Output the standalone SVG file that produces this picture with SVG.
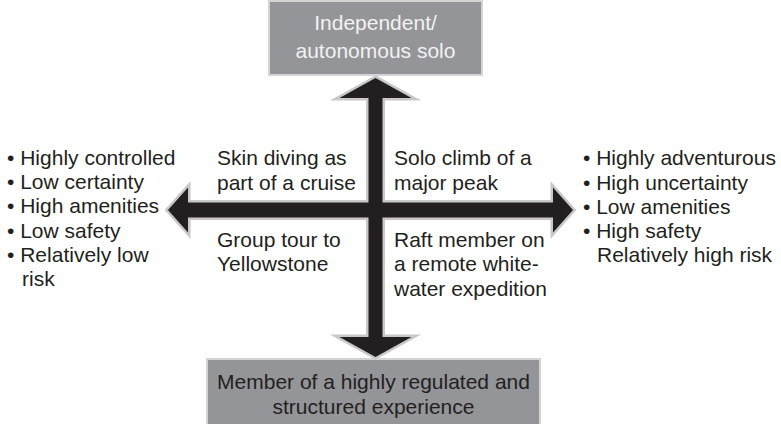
<svg xmlns="http://www.w3.org/2000/svg" xmlns:xlink="http://www.w3.org/1999/xlink" width="781" height="424" viewBox="0 0 781 424">
<style>
text { font-family: "Liberation Sans", Arial, sans-serif; font-size: 21px; fill: #231f20; }
.box { fill: #939598; stroke: #d4d4d4; stroke-width: 2; }
.light { fill: #f2f2f2; }
.mid { text-anchor: middle; }
.outline { fill: none; stroke: #c8c8c8; stroke-width: 5; stroke-linejoin: miter; }
.arrowfill { fill: #231f20; stroke: none; }
</style>
<defs>
<path id="varrow" d="M375.5,78 L411.5,98 L382.5,98 L382.5,337 L411.5,337 L375.5,357 L339.5,337 L368.5,337 L368.5,98 L339.5,98 Z"/>
<path id="harrow" d="M168,210 L188,187.5 L188,202.5 L553,202.5 L553,187.5 L573,210 L553,232.5 L553,217.5 L188,217.5 L188,232.5 Z"/>
</defs>
<g id="top-node">
<rect class="box" x="269" y="1" width="213" height="74"/>
<text class="light mid" x="375.5" y="30">Independent/</text>
<text class="light mid" x="375.5" y="58">autonomous solo</text>
</g>
<g id="bottom-node">
<rect class="box" x="207" y="359" width="333" height="66"/>
<text class="mid" x="373.5" y="389">Member of a highly regulated and</text>
<text class="mid" x="373.5" y="414">structured experience</text>
</g>
<g id="connectors">
<use xlink:href="#varrow" class="outline"/>
<use xlink:href="#harrow" class="outline"/>
<use xlink:href="#varrow" class="arrowfill"/>
<use xlink:href="#harrow" class="arrowfill"/>
</g>
<g id="left-list">
<text x="7" y="165">• Highly controlled</text>
<text x="7" y="189">• Low certainty</text>
<text x="7" y="213">• High amenities</text>
<text x="7" y="238">• Low safety</text>
<text x="7" y="262">• Relatively low</text>
<text x="22" y="286">risk</text>
</g>
<g id="right-list">
<text x="583" y="165">• Highly adventurous</text>
<text x="583" y="190">• High uncertainty</text>
<text x="583" y="214">• Low amenities</text>
<text x="583" y="238">• High safety</text>
<text x="597" y="262">Relatively high risk</text>
</g>
<g id="q-top-left">
<text x="217" y="165">Skin diving as</text>
<text x="217" y="190">part of a cruise</text>
</g>
<g id="q-top-right">
<text x="394" y="165">Solo climb of a</text>
<text x="394" y="190">major peak</text>
</g>
<g id="q-bottom-left">
<text x="217" y="247">Group tour to</text>
<text x="217" y="271">Yellowstone</text>
</g>
<g id="q-bottom-right">
<text x="394" y="247">Raft member on</text>
<text x="394" y="271">a remote white-</text>
<text x="394" y="296">water expedition</text>
</g>
</svg>
